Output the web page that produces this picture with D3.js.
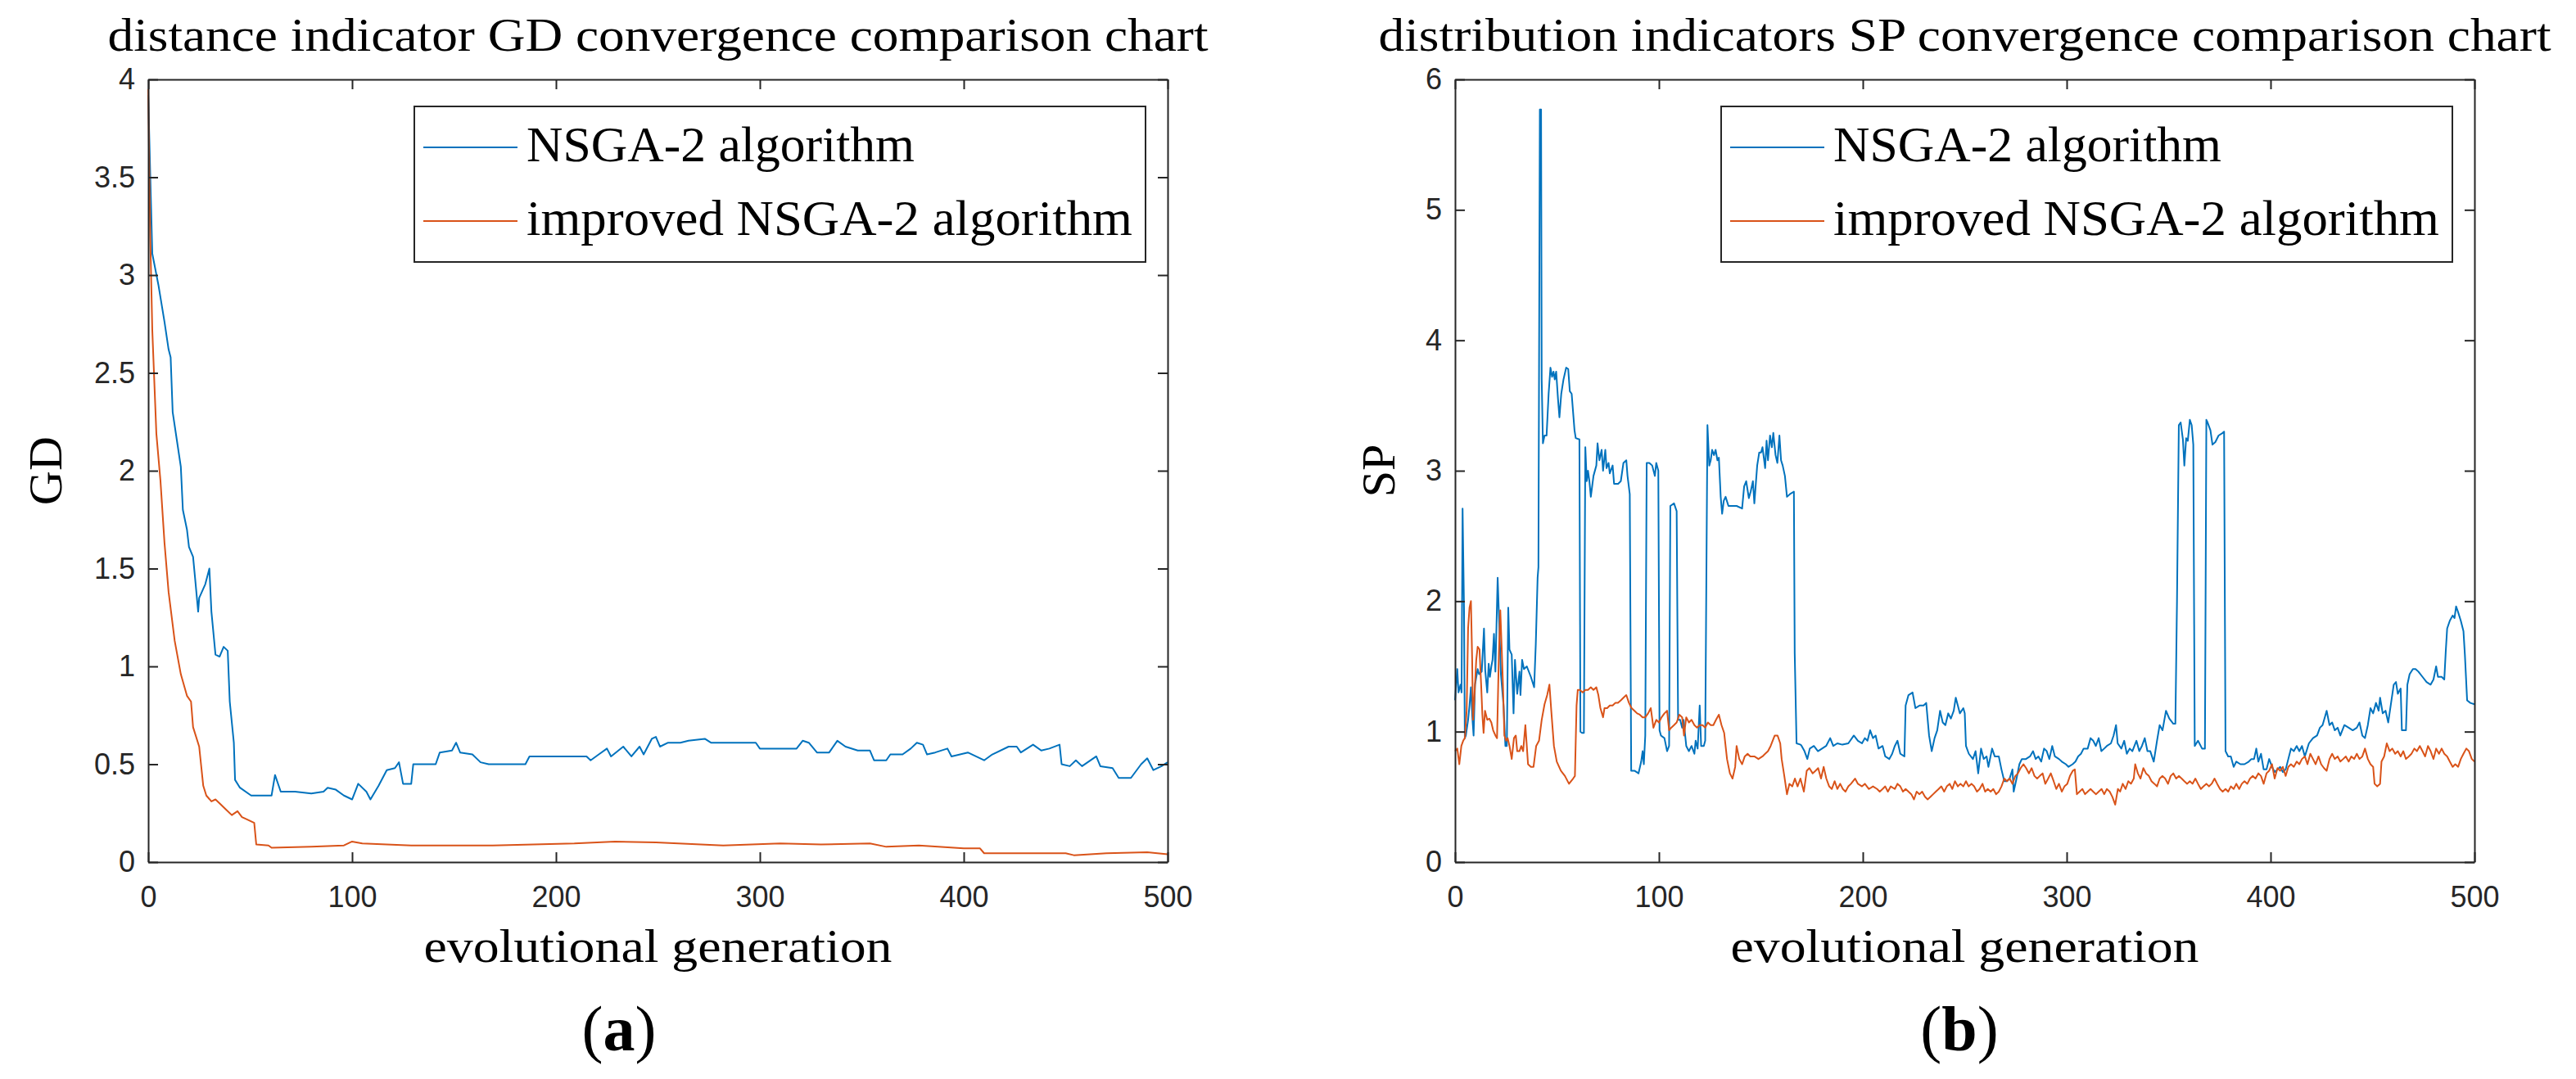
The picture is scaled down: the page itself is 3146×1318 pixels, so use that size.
<!DOCTYPE html>
<html>
<head>
<meta charset="utf-8">
<script src="https://cdn.jsdelivr.net/npm/d3@7"></script>
<style>
  body { margin: 0; background: #fff; }
</style>
</head>
<body>
<div id="chart"></div>
<script>
// values, [generation, value]
const gdNsga = [[0,3.92],[2,3.11],[5,2.95],[8,2.76],[10,2.62],[11,2.58],[12,2.30],[14,2.16],[16,2.02],[17,1.80],[19,1.70],[20,1.61],[22,1.56],[23,1.45],[24.5,1.28],[25,1.35],[28,1.42],[30,1.50],[31,1.28],[33,1.06],[35,1.05],[37,1.10],[39,1.08],[40,0.82],[42,0.61],[42.6,0.42],[45,0.38],[50.5,0.34],[60.5,0.34],[62.2,0.445],[65,0.36],[72,0.36],[80,0.35],[86,0.36],[88,0.38],[92,0.37],[96,0.34],[100,0.32],[103,0.40],[107,0.36],[109,0.32],[113,0.39],[117,0.47],[121,0.48],[123,0.51],[125,0.40],[129,0.40],[130,0.50],[141,0.50],[143,0.56],[149,0.57],[151,0.61],[153,0.56],[159,0.55],[163,0.51],[167,0.50],[185,0.50],[187,0.54],[215,0.54],[217,0.52],[221,0.55],[225,0.58],[227,0.54],[233,0.59],[237,0.54],[241,0.59],[243,0.55],[247,0.63],[249,0.64],[251,0.59],[255,0.61],[261,0.61],[265,0.62],[273,0.63],[276,0.61],[298,0.61],[300,0.58],[318,0.58],[321,0.62],[324,0.61],[328,0.56],[334,0.56],[338,0.62],[342,0.59],[348,0.57],[354,0.57],[356,0.52],[362,0.52],[364,0.55],[370,0.55],[374,0.58],[377,0.61],[380,0.60],[382,0.55],[386,0.56],[392,0.58],[394,0.54],[402,0.56],[406,0.54],[410,0.52],[414,0.55],[422,0.59],[426,0.59],[428,0.56],[434,0.60],[438,0.57],[442,0.58],[447,0.60],[448,0.50],[452,0.49],[455,0.52],[458,0.49],[465,0.54],[467,0.49],[473,0.48],[476,0.43],[482,0.43],[487,0.50],[490,0.53],[493,0.47],[497,0.49],[500,0.51]];

const gdImproved = [[0,3.95],[1,3.2],[2,2.72],[4,2.19],[6,1.95],[8,1.63],[10,1.38],[13,1.13],[16,0.96],[19,0.85],[21,0.82],[22,0.69],[25,0.59],[27,0.39],[28.5,0.34],[31,0.31],[33,0.32],[35,0.30],[38,0.27],[41,0.24],[43.8,0.26],[46,0.23],[48,0.22],[52,0.20],[53,0.09],[59,0.085],[60.5,0.073],[80,0.078],[96,0.085],[100,0.105],[105,0.095],[129,0.085],[169,0.085],[209,0.095],[229,0.105],[249,0.10],[282,0.085],[310,0.095],[330,0.09],[354,0.095],[362,0.078],[378,0.085],[400,0.07],[408,0.07],[410,0.045],[450,0.045],[454,0.035],[470,0.045],[490,0.05],[500,0.04]];

const spNsga = [[0,1.24],[1.1,1.48],[1.7,1.30],[2.7,1.36],[3.2,1.30],[3.7,2.71],[4.4,1.95],[4.8,0.95],[5.3,0.97],[6.4,1.09],[7.1,1.20],[7.8,1.34],[8.4,1.13],[9.1,0.97],[9.8,1.36],[11.1,1.48],[11.8,1.44],[13.1,1.46],[14.2,1.79],[14.8,1.47],[15.8,1.30],[16.5,1.52],[17.1,1.42],[17.8,1.50],[18.4,1.55],[19.1,1.75],[19.8,1.46],[20.9,2.18],[21.5,1.91],[22.5,1.44],[23.8,1.20],[24.7,0.89],[25.4,0.89],[26.1,1.95],[26.7,1.63],[27.8,1.59],[28.7,1.14],[29.4,1.55],[30.5,1.29],[31.6,1.46],[32.1,1.28],[32.9,1.55],[33.8,1.48],[35.2,1.50],[37.2,1.42],[38.8,1.34],[39.6,1.67],[40.5,2.18],[40.9,2.26],[41.6,5.77],[42.2,5.77],[42.5,3.70],[43.1,3.21],[43.9,3.27],[44.9,3.27],[45.9,3.59],[46.8,3.79],[47.6,3.72],[48.3,3.76],[48.9,3.70],[49.6,3.76],[50.5,3.55],[51.2,3.41],[52.1,3.59],[53.2,3.70],[54.5,3.79],[55.5,3.78],[56.3,3.61],[57.2,3.59],[58.6,3.31],[59.2,3.25],[61,3.24],[61.5,1.0],[62.3,0.99],[63.2,0.99],[63.9,3.18],[64.6,2.92],[65.2,3.0],[65.9,2.92],[66.6,2.80],[67.9,2.96],[69.3,3.04],[69.9,3.21],[70.8,3.08],[71.9,3.16],[72.6,3.0],[73.7,3.16],[74.3,3.02],[75.3,3.06],[75.9,2.98],[77.3,3.04],[78,2.90],[80,2.90],[81.3,2.92],[82.6,3.06],[84,3.08],[84.6,2.96],[85.7,2.82],[86.4,0.70],[88,0.70],[90,0.68],[91.3,0.77],[92,0.85],[92.6,0.75],[93.3,0.97],[94,3.06],[95.3,3.06],[96.7,3.04],[98,2.96],[98.7,3.06],[99.7,3.0],[100.3,1.01],[101,0.97],[102.7,0.95],[104,0.85],[105,0.89],[105.6,2.73],[107.4,2.75],[108.7,2.69],[109.4,1.09],[110.4,1.09],[111.4,1.03],[112.1,1.09],[113.4,0.89],[114.7,0.85],[116,0.89],[117.4,0.83],[118,0.93],[119,0.87],[120,1.20],[120.7,0.89],[122,0.89],[122.7,0.93],[123.8,3.35],[124.7,3.04],[125.4,3.08],[126.1,3.16],[127,3.12],[127.8,3.16],[128.7,3.08],[129.4,3.10],[130.3,2.80],[131,2.67],[131.8,2.77],[132.7,2.80],[134.1,2.73],[138.1,2.73],[140.8,2.71],[141.8,2.88],[142.8,2.92],[144.1,2.79],[145,2.84],[146.1,2.92],[146.8,2.75],[148.2,3.04],[149.2,3.14],[150.1,3.14],[150.8,3.18],[152.1,3.02],[152.8,3.23],[153.5,3.08],[154.5,3.27],[155.4,3.18],[156.1,3.29],[157.2,3.12],[158.1,3.06],[159.1,3.27],[159.9,3.08],[160.7,3.04],[161.8,2.96],[162.8,2.80],[164.2,2.82],[166.2,2.84],[166.6,1.60],[167.5,0.91],[169.5,0.90],[170,0.89],[171.4,0.85],[172.8,0.79],[174,0.87],[176,0.89],[178,0.85],[180,0.87],[182,0.89],[184,0.95],[185.5,0.89],[187.5,0.91],[190,0.90],[192.9,0.91],[195.6,0.97],[197.6,0.93],[199.6,0.91],[201,0.95],[202.3,0.93],[203.6,1.01],[205,0.95],[206.3,0.97],[207.7,0.87],[209.7,0.89],[211,0.81],[213,0.79],[214.4,0.83],[215.7,0.89],[217,0.93],[218.4,0.83],[220.4,0.81],[221,1.20],[222.4,1.28],[224.4,1.30],[225.8,1.18],[227.8,1.20],[229.8,1.20],[231.1,1.22],[232.5,0.97],[233.8,0.85],[235.2,0.95],[236.5,1.01],[237.9,1.16],[239.2,1.07],[240.5,1.05],[241.9,1.14],[243.2,1.10],[244.6,1.16],[245.6,1.26],[246.6,1.20],[247.6,1.14],[249.3,1.18],[250,1.14],[250.6,0.89],[252,0.83],[254,0.79],[255.3,0.85],[256.6,0.68],[258,0.87],[259.3,0.79],[260.7,0.81],[261.6,0.73],[263.4,0.87],[264.7,0.81],[266.7,0.81],[268,0.71],[269.4,0.62],[270.7,0.62],[272,0.64],[273.4,0.71],[274,0.54],[275.4,0.64],[276.8,0.75],[278,0.79],[280,0.79],[282,0.81],[283.5,0.85],[284.8,0.79],[286.1,0.81],[287.5,0.77],[288.9,0.87],[290.2,0.85],[291.5,0.79],[292.9,0.89],[294.2,0.81],[296.2,0.79],[297.6,0.77],[299.6,0.75],[300.9,0.73],[302.9,0.75],[304.3,0.77],[305.6,0.81],[307,0.83],[308.3,0.87],[310.3,0.87],[311.7,0.95],[313,0.93],[314.3,0.89],[315.7,0.95],[317,0.85],[318.4,0.87],[319.7,0.89],[321.7,0.91],[323,0.97],[324.2,1.05],[325,0.91],[326.8,0.87],[328.2,0.93],[329.5,0.83],[330.9,0.87],[332.2,0.85],[334.2,0.93],[335.6,0.85],[336.9,0.89],[338.3,0.95],[339.6,0.85],[341,0.85],[342.7,0.77],[344.3,0.93],[345.6,1.05],[347,1.01],[348.7,1.16],[350.3,1.10],[352.3,1.06],[353.3,1.06],[354.1,2.0],[355,3.35],[355.9,3.37],[357,3.24],[357.7,3.04],[358.6,3.25],[359.4,3.23],[360.4,3.39],[361.3,3.35],[362.1,3.20],[362.8,0.89],[364.4,0.93],[366.4,0.87],[367.8,0.87],[368.5,3.39],[369.1,3.37],[370.5,3.31],[371.5,3.20],[372.9,3.22],[374.5,3.27],[376.5,3.29],[377.2,3.30],[377.9,0.85],[379.2,0.81],[380.5,0.81],[381.9,0.73],[383.2,0.77],[385.2,0.75],[387.2,0.75],[389.3,0.77],[390.6,0.79],[391.9,0.79],[393,0.87],[394,0.77],[395.3,0.83],[396.6,0.71],[398,0.71],[399.3,0.79],[400.7,0.73],[402,0.69],[403.4,0.71],[404.7,0.73],[406,0.69],[407.4,0.71],[408.7,0.79],[410,0.87],[411.4,0.85],[412.8,0.89],[414.1,0.85],[415.4,0.89],[416.8,0.81],[418.8,0.91],[420.8,0.95],[422.8,0.97],[424.2,1.03],[425.5,1.05],[426.8,1.12],[427.5,1.16],[428.9,1.05],[430.2,1.07],[431.5,1.01],[432.9,1.03],[434.2,0.97],[436.2,1.05],[438.3,1.03],[440.3,1.01],[442.3,1.03],[443.6,1.07],[445,0.97],[446.3,0.95],[447.7,1.05],[449,1.18],[450.3,1.14],[451.7,1.22],[453,1.16],[453.7,1.26],[455,1.14],[456.4,1.16],[457.7,1.07],[459.1,1.22],[460.4,1.36],[461.5,1.38],[462.4,1.29],[463.8,1.33],[464.4,1.01],[466.4,1.01],[467.1,1.36],[468.2,1.44],[469.8,1.48],[471.1,1.48],[472.5,1.46],[474.5,1.42],[476.5,1.38],[478.5,1.36],[479.9,1.40],[481.2,1.50],[482.1,1.42],[483.9,1.42],[485.2,1.40],[485.9,1.61],[486.6,1.79],[487.9,1.85],[489.3,1.89],[490.2,1.87],[491,1.96],[491.9,1.92],[493.3,1.85],[494.6,1.77],[495.3,1.59],[496.4,1.24],[498,1.22],[500,1.21]];

const spImproved = [[0,0.85],[1.1,0.87],[2.1,0.75],[3.1,0.89],[4,0.93],[4.8,0.95],[5.7,1.16],[6.4,1.79],[7.1,1.95],[7.8,2.0],[8.4,1.55],[8.8,1.09],[9.4,1.24],[10.4,1.55],[11.1,1.65],[12,1.63],[12.8,1.36],[13.4,1.13],[14,0.99],[14.7,1.16],[15.8,1.09],[16.8,1.10],[17.8,1.07],[18.7,1.01],[19.8,0.97],[20.6,0.95],[21.5,1.59],[22.2,1.93],[22.9,1.63],[23.5,1.36],[24.2,0.97],[25.1,0.93],[25.8,0.95],[26.7,0.89],[27.8,0.79],[28.9,0.95],[29.8,0.97],[30.5,0.85],[31.6,0.85],[32.5,0.89],[33.4,0.85],[34.5,1.05],[35.8,0.75],[37.2,0.73],[38.5,0.73],[39.8,0.89],[41.2,0.93],[42.5,1.09],[43.9,1.21],[45.2,1.28],[46.3,1.36],[47.2,1.16],[48.5,0.89],[49.9,0.77],[51.9,0.70],[53.9,0.66],[55.9,0.60],[57.9,0.64],[58.8,0.66],[59.6,1.20],[60.2,1.32],[61.2,1.32],[62.6,1.30],[63.9,1.32],[65.2,1.32],[66.6,1.34],[67.9,1.32],[69.3,1.34],[70.3,1.28],[71.3,1.18],[72.6,1.11],[73.3,1.18],[74.6,1.18],[75.9,1.20],[77.3,1.20],[78.6,1.22],[79.9,1.22],[81.3,1.24],[82.6,1.26],[84,1.28],[85.3,1.22],[86.6,1.18],[88,1.16],[89.3,1.14],[90.6,1.13],[92,1.11],[93.3,1.11],[94.7,1.14],[96,1.18],[97.3,1.03],[98.7,1.09],[100,1.07],[101.3,1.11],[102.7,1.14],[104,1.16],[105,1.01],[106,1.03],[107.4,1.05],[108.7,1.07],[110,1.13],[111.4,1.11],[112.3,0.97],[113.4,1.11],[114.7,1.07],[116,1.09],[117.4,1.05],[118.7,1.03],[120,1.05],[121.4,1.05],[122.7,1.03],[124,1.07],[125.4,1.05],[126.7,1.05],[128,1.09],[129.4,1.13],[130.7,1.05],[132,0.99],[133.4,0.79],[134.8,0.68],[136.1,0.64],[137.4,0.73],[138.1,0.89],[139.4,0.79],[140.8,0.75],[142.1,0.81],[143.5,0.83],[144.8,0.81],[146.8,0.81],[148.8,0.79],[150.8,0.81],[152.1,0.83],[153.5,0.85],[154.8,0.89],[156.8,0.97],[158.2,0.97],[159.5,0.91],[160.2,0.79],[161.5,0.66],[162.8,0.52],[164,0.60],[165.4,0.58],[166.7,0.64],[168,0.58],[169.4,0.64],[171.1,0.54],[172.5,0.70],[173.8,0.72],[175.4,0.68],[176.8,0.70],[178.1,0.72],[179.5,0.64],[180.8,0.73],[182.1,0.64],[183.5,0.58],[184.8,0.56],[186.2,0.62],[187.5,0.56],[188.9,0.60],[190.2,0.56],[191.5,0.54],[192.9,0.58],[194.2,0.60],[196.2,0.64],[197.6,0.60],[199.6,0.58],[201,0.60],[203,0.56],[205,0.58],[207,0.56],[208.3,0.54],[209.7,0.56],[211,0.58],[212.3,0.54],[213.7,0.58],[215.7,0.56],[217,0.60],[218.4,0.58],[219.7,0.54],[221,0.56],[222.4,0.54],[223.8,0.52],[225.1,0.48],[226.4,0.54],[227.8,0.52],[229.1,0.54],[230.5,0.50],[231.8,0.48],[233.2,0.50],[234.5,0.52],[235.8,0.54],[237.2,0.56],[238.5,0.58],[239.9,0.54],[241.2,0.58],[242.6,0.60],[243.9,0.56],[245.2,0.62],[246.6,0.58],[247.9,0.60],[249.3,0.58],[250.6,0.62],[251.9,0.58],[253.3,0.60],[254.6,0.58],[256,0.54],[257.3,0.56],[258.7,0.60],[260,0.54],[261.3,0.56],[262.7,0.54],[264,0.56],[265.4,0.52],[266.7,0.54],[268,0.58],[269.4,0.64],[270.7,0.62],[272,0.64],[273.4,0.60],[274.8,0.66],[276.1,0.68],[277.4,0.72],[278.8,0.75],[280.1,0.72],[281.5,0.68],[282.8,0.72],[284.2,0.66],[285.5,0.64],[286.8,0.66],[288.2,0.68],[289.5,0.60],[290.9,0.64],[292.2,0.68],[293.6,0.62],[294.9,0.56],[296.2,0.60],[297.6,0.54],[298.9,0.58],[300.3,0.60],[301.6,0.66],[303,0.70],[304,0.71],[305,0.52],[306.3,0.54],[307.7,0.56],[309,0.52],[310.3,0.54],[311.7,0.56],[313,0.54],[314.4,0.52],[315.7,0.54],[317.1,0.56],[318.4,0.52],[319.7,0.56],[321.1,0.54],[322.4,0.50],[323.8,0.44],[325.1,0.56],[326.2,0.54],[327.5,0.60],[328.9,0.56],[330.2,0.62],[331.5,0.60],[332.9,0.64],[333.6,0.75],[334.9,0.68],[336.2,0.64],[337.6,0.72],[338.9,0.68],[340.3,0.66],[341.6,0.62],[343,0.60],[344.3,0.58],[345.6,0.64],[347,0.66],[348.3,0.64],[349.7,0.60],[351,0.66],[352.3,0.68],[353.7,0.64],[355,0.66],[356.4,0.64],[357.7,0.62],[359.1,0.60],[360.4,0.62],[361.7,0.60],[363.1,0.64],[364.4,0.60],[365.8,0.56],[367.1,0.58],[368.5,0.60],[369.8,0.58],[371.1,0.60],[372.5,0.64],[373.8,0.60],[375.2,0.56],[376.5,0.54],[377.9,0.56],[379.2,0.54],[380.5,0.58],[381.9,0.56],[383.2,0.60],[384.6,0.56],[385.9,0.60],[387.2,0.62],[388.6,0.60],[389.9,0.64],[391.3,0.66],[392.6,0.64],[394,0.68],[395.3,0.66],[396.6,0.60],[398,0.68],[399.3,0.70],[400.7,0.75],[402,0.64],[403.4,0.72],[404.7,0.70],[406,0.73],[407.4,0.66],[408.7,0.73],[410,0.75],[411.4,0.73],[412.8,0.77],[414.1,0.75],[415.4,0.79],[416.8,0.81],[418.1,0.75],[419.5,0.83],[420.8,0.79],[422.1,0.75],[423.5,0.81],[424.8,0.75],[426.2,0.72],[427.5,0.70],[428.9,0.79],[430.2,0.83],[431.5,0.79],[432.9,0.81],[434.2,0.77],[435.6,0.79],[436.9,0.81],[438.3,0.77],[439.6,0.81],[441,0.79],[442.3,0.83],[443.6,0.79],[445,0.81],[446.3,0.87],[447.7,0.79],[449,0.75],[450.3,0.73],[451,0.60],[452.3,0.58],[453.7,0.60],[454.4,0.77],[455.7,0.81],[457,0.91],[458.4,0.85],[459.7,0.87],[461.1,0.83],[462.4,0.85],[463.8,0.81],[465.1,0.85],[466.4,0.79],[467.8,0.81],[469.1,0.83],[470.5,0.87],[471.8,0.85],[473.2,0.89],[474.5,0.85],[475.8,0.81],[477.2,0.89],[478.5,0.85],[479.9,0.79],[481.2,0.87],[482.6,0.83],[483.9,0.87],[485.2,0.83],[486.6,0.81],[487.9,0.77],[489.3,0.73],[490.6,0.75],[492,0.73],[493.3,0.79],[494.6,0.83],[496,0.87],[497.3,0.85],[498.7,0.79],[500,0.77]];

const genTicks = [0, 100, 200, 300, 400, 500];
const gdTicks = [0, 0.5, 1, 1.5, 2, 2.5, 3, 3.5, 4];
const spTicks = [0, 1, 2, 3, 4, 5, 6];
const seriesNames = ["NSGA-2 algorithm", "improved NSGA-2 algorithm"];
const seriesColors = ["#0072BD", "#D95319"];

const width = 3146;
const height = 1318;
const plotTop = 97, plotBottom = 1053;
const serif = "'Liberation Serif', 'Times New Roman', serif";
const sans = "'Liberation Sans', Arial, sans-serif";
const axisColor = "#262626";

const svg = d3
  .select("#chart")
  .append("svg")
  .attr("width", width)
  .attr("height", height)
  .style("background", "#fff");

const drawPanel = (p) => {
  const x = d3.scaleLinear().domain([0, 500]).range([p.left, p.right]);
  const y = d3.scaleLinear().domain([0, p.ymax]).range([plotBottom, plotTop]);
  const g = svg.append("g");

  // lines first so the box sits on top
  const line = d3
    .line()
    .x((d) => x(d[0]))
    .y((d) => y(d[1]));

  g.selectAll(".series")
    .data(p.series)
    .join("path")
    .attr("class", "series")
    .attr("d", line)
    .attr("fill", "none")
    .attr("stroke", (d, i) => seriesColors[i])
    .attr("stroke-width", 2)
    .attr("stroke-linejoin", "round");

  const fmt = (d) => String(d);

  // bottom + left carry labels, top + right only mirror the ticks
  const axes = [
    { ax: d3.axisBottom(x).tickValues(genTicks).tickFormat(fmt).tickPadding(29), t: `translate(0,${plotBottom})` },
    { ax: d3.axisTop(x).tickValues(genTicks).tickFormat(""), t: `translate(0,${plotTop})` },
    { ax: d3.axisLeft(y).tickValues(p.yTicks).tickFormat(fmt).tickPadding(16), t: `translate(${p.left},0)` },
    { ax: d3.axisRight(y).tickValues(p.yTicks).tickFormat(""), t: `translate(${p.right},0)` },
  ];
  axes.forEach(({ ax, t }) => {
    const a = g
      .append("g")
      .attr("transform", t)
      .call(ax.tickSizeInner(-12).tickSizeOuter(0));
    a.select(".domain").attr("stroke", axisColor).attr("stroke-width", 2);
    a.selectAll(".tick line").attr("stroke", axisColor).attr("stroke-width", 2);
    a.selectAll(".tick text")
      .attr("fill", axisColor)
      .style("font-family", sans)
      .style("font-size", "36px");
  });

  // title
  g.append("text")
    .attr("x", (p.left + p.right) / 2)
    .attr("y", 62)
    .attr("text-anchor", "middle")
    .attr("textLength", p.titleWidth)
    .attr("lengthAdjust", "spacingAndGlyphs")
    .style("font-family", serif)
    .style("font-size", "58px")
    .text(p.title);

  // axis labels
  g.append("text")
    .attr("x", (p.left + p.right) / 2)
    .attr("y", 1175)
    .attr("text-anchor", "middle")
    .attr("textLength", 572)
    .attr("lengthAdjust", "spacingAndGlyphs")
    .style("font-family", serif)
    .style("font-size", "58px")
    .text("evolutional generation");

  g.append("text")
    .attr("transform", `translate(${p.ylabelX},${(plotTop + plotBottom) / 2}) rotate(-90)`)
    .attr("text-anchor", "middle")
    .style("font-family", serif)
    .style("font-size", "58px")
    .text(p.ylabel);

  // panel letter, bold letter in plain parentheses
  const tag = g
    .append("text")
    .attr("x", p.tagX)
    .attr("y", 1283)
    .attr("text-anchor", "middle")
    .style("font-family", serif)
    .style("font-size", "78px");
  tag.append("tspan").text("(");
  tag.append("tspan").attr("font-weight", "bold").text(p.tag);
  tag.append("tspan").text(")");

  // legend, top right inside the box
  const lx = p.right - 27 - 893;
  const legend = g.append("g").attr("transform", `translate(${lx},130)`);
  legend
    .append("rect")
    .attr("width", 893)
    .attr("height", 190)
    .attr("fill", "#fff")
    .attr("stroke", axisColor)
    .attr("stroke-width", 2);
  const rows = legend
    .selectAll(".row")
    .data(seriesNames)
    .join("g")
    .attr("class", "row")
    .attr("transform", (d, i) => `translate(0,${50 + i * 90})`);
  rows
    .append("line")
    .attr("x1", 11)
    .attr("x2", 126)
    .attr("stroke", (d, i) => seriesColors[i])
    .attr("stroke-width", 2);
  rows
    .append("text")
    .attr("x", 137)
    .attr("y", 17)
    .attr("textLength", (d, i) => [474, 740][i])
    .attr("lengthAdjust", "spacingAndGlyphs")
    .style("font-family", serif)
    .style("font-size", "61px")
    .text((d) => d);
};

drawPanel({
  left: 181,
  right: 1426,
  ymax: 4,
  yTicks: gdTicks,
  series: [gdNsga, gdImproved],
  title: "distance indicator GD convergence comparison chart",
  titleWidth: 1344,
  ylabel: "GD",
  ylabelX: 75,
  tag: "a",
  tagX: 756,
});

drawPanel({
  left: 1777,
  right: 3022,
  ymax: 6,
  yTicks: spTicks,
  series: [spNsga, spImproved],
  title: "distribution indicators SP convergence comparison chart",
  titleWidth: 1432,
  ylabel: "SP",
  ylabelX: 1703,
  tag: "b",
  tagX: 2393,
});
</script>
</body>
</html>
